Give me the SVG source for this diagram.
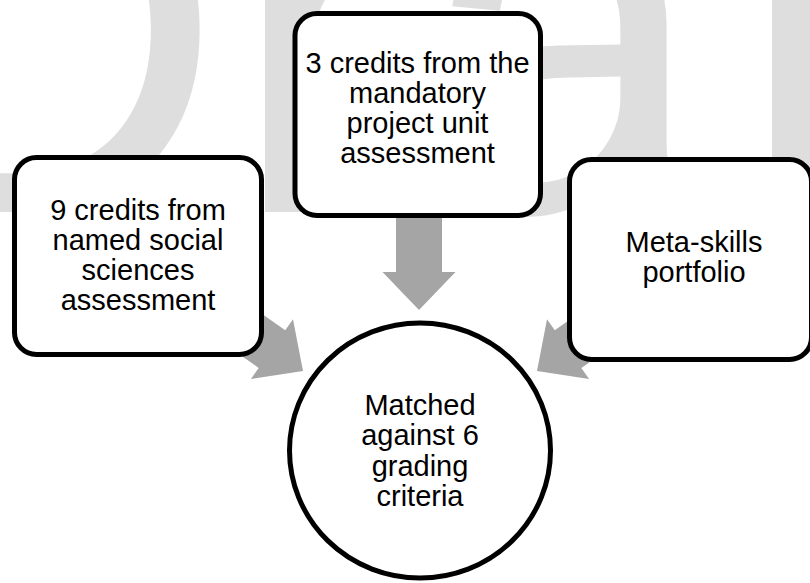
<svg xmlns="http://www.w3.org/2000/svg" width="810" height="583" viewBox="0 0 810 583">
  <style>
    .wm { font-family: "Liberation Sans", Arial, sans-serif; font-size: 520px; fill: #dedede; }
    .box { fill: #ffffff; stroke: #000000; stroke-width: 5; }
    .lbl { font-family: "Liberation Sans", Arial, sans-serif; font-size: 29px; fill: #000000; text-anchor: middle; }
    .arrow { fill: #a5a5a5; }
  </style>
  <defs>
    <polygon id="blockArrow" points="0,0 -38,-36.5 -38,-23 -100,-23 -100,23 -38,23 -38,36.5"/>
  </defs>
  <rect width="810" height="583" fill="#ffffff"/>
  <g id="watermark">
    <text class="wm" x="-151 229 418 726 870" y="212">Draft</text>
  </g>
  <g id="connectors">
    <polygon class="arrow" points="0,0 -38,-36.5 -38,-23 -96,-23 -96,23 -38,23 -38,36.5" transform="translate(419,310) rotate(90)"/>
    <use href="#blockArrow" class="arrow" transform="translate(303,371) rotate(35.2)"/>
    <use href="#blockArrow" class="arrow" transform="translate(537,371) rotate(144.8)"/>
  </g>
  <g id="node-social">
    <rect class="box" x="14.5" y="157.5" width="247" height="197" rx="22"/>
    <text class="lbl" x="138" y="219.5">9 credits from</text>
    <text class="lbl" x="138" y="249.5">named social</text>
    <text class="lbl" x="138" y="279.5">sciences</text>
    <text class="lbl" x="138" y="309.5">assessment</text>
  </g>
  <g id="node-project">
    <rect class="box" x="295" y="13.5" width="245.5" height="202" rx="22"/>
    <text class="lbl" x="417.5" y="73">3 credits from the</text>
    <text class="lbl" x="417.5" y="103">mandatory</text>
    <text class="lbl" x="417.5" y="133">project unit</text>
    <text class="lbl" x="417.5" y="163">assessment</text>
  </g>
  <g id="node-meta">
    <rect class="box" x="569.5" y="159.5" width="242" height="200" rx="22"/>
    <text class="lbl" x="694" y="252">Meta-skills</text>
    <text class="lbl" x="694" y="282">portfolio</text>
  </g>
  <g id="node-criteria">
    <ellipse class="box" cx="420" cy="450.5" rx="130.5" ry="127.5"/>
    <text class="lbl" x="420" y="415">Matched</text>
    <text class="lbl" x="420" y="445.3">against 6</text>
    <text class="lbl" x="420" y="475.6">grading</text>
    <text class="lbl" x="420" y="506">criteria</text>
  </g>
</svg>
